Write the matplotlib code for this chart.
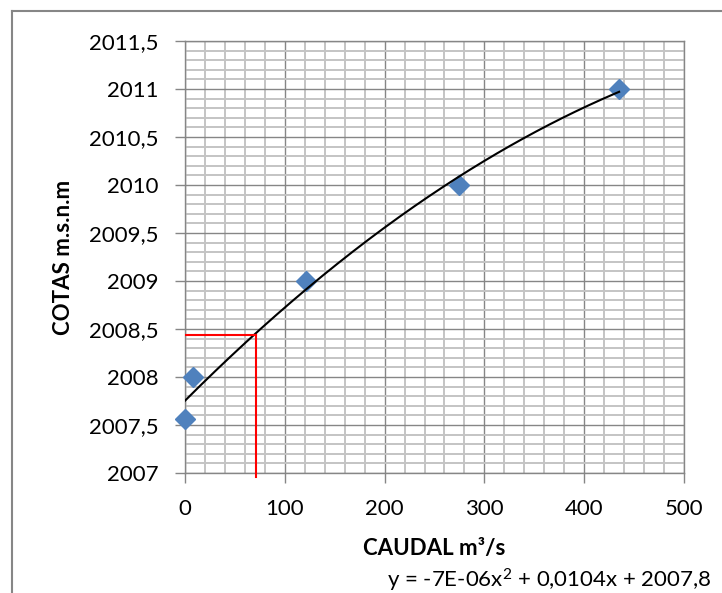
"""Curva de descarga: COTAS vs CAUDAL con ajuste polinómico de grado 2."""
import matplotlib.pyplot as plt
import numpy as np
from matplotlib.lines import Line2D
from matplotlib.ticker import MultipleLocator, FuncFormatter

plt.rcParams["font.family"] = ["Lato", "DejaVu Sans"]
plt.rcParams["mathtext.fontset"] = "custom"
plt.rcParams["mathtext.rm"] = "Lato"
plt.rcParams["mathtext.default"] = "rm"

# === Datos ===
caudal = [0, 8, 121, 275, 435]               # m3/s
cotas = [2007.56, 2008.0, 2009.0, 2010.0, 2011.0]  # m.s.n.m
ecuacion = "y = -7E-06x$^{2}$ + 0,0104x + 2007,8"
q_lectura = 71          # caudal leído (línea roja)
h_lectura = 2008.44     # cota leída

GRIS = "#868686"
GRIS_CLARO = "#C4C4C4"
AZUL = "#4F81BD"

fig = plt.figure(figsize=(7.22, 5.93), dpi=100)
ax = fig.add_axes([185 / 722, 1 - 473 / 593, 499 / 722, 432 / 593])

ax.set_xlim(0, 500)
ax.set_ylim(2007, 2011.5)
ax.xaxis.set_major_locator(MultipleLocator(100))
ax.xaxis.set_minor_locator(MultipleLocator(20))
ax.yaxis.set_major_locator(MultipleLocator(0.5))
ax.yaxis.set_minor_locator(MultipleLocator(0.1))

# formato decimal con coma
fmt = FuncFormatter(lambda v, pos: f"{v:g}".replace(".", ","))
ax.xaxis.set_major_formatter(fmt)
ax.yaxis.set_major_formatter(fmt)

# cuadrícula
ax.grid(which="minor", color=GRIS_CLARO, lw=1.4, zorder=0)
ax.grid(which="major", color=GRIS, lw=1.0, zorder=0)
ax.set_axisbelow(True)
for s in ax.spines.values():
    s.set_color(GRIS)
    s.set_linewidth(1.0)

ax.tick_params(which="major", direction="out", length=7, width=1, color=GRIS,
               labelsize=16, top=False, right=False)
ax.tick_params(axis="y", pad=12)
ax.tick_params(axis="x", pad=12)
ax.tick_params(which="minor", length=0)

# puntos medidos
ax.plot(caudal, cotas, "D", color=AZUL, ms=10.5, zorder=3, clip_on=False)

# línea de tendencia (polinómica grado 2)
coef = np.polyfit(caudal, cotas, 2)
xs = np.linspace(0, max(caudal), 200)
ax.plot(xs, np.polyval(coef, xs), color="black", lw=1.5, zorder=4)

# lectura en la curva
ax.plot([0, q_lectura], [h_lectura, h_lectura], color="red", lw=1.5, zorder=5)
ax.plot([q_lectura, q_lectura], [h_lectura, 2006.96], color="red", lw=1.5,
        zorder=5, clip_on=False)

ax.set_xlabel("CAUDAL m³/s", fontsize=16, fontweight="bold")
ax.xaxis.label.set_va("center")
ax.xaxis.set_label_coords(0.5, (473 - 549) / 432)
ax.set_ylabel("COTAS m.s.n.m", fontsize=16, fontweight="bold")
ax.yaxis.label.set_va("center")
ax.yaxis.set_label_coords((64 - 185) / 499, 0.5)

fig.text(712 / 722, 1 - 580 / 593, ecuacion, fontsize=16, ha="right", va="center")

# marco exterior del gráfico
fig.add_artist(Line2D([12 / 722, 1], [1 - 11 / 593] * 2, color=GRIS, lw=1.5))
fig.add_artist(Line2D([12 / 722] * 2, [0, 1 - 11 / 593], color=GRIS, lw=1.5))

fig.savefig("out.png", dpi=100)
